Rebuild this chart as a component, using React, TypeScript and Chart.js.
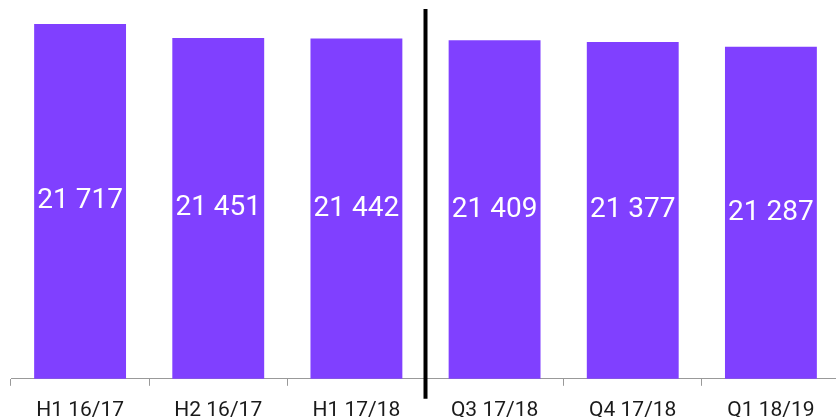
import React, { useEffect, useRef } from "react";
import { Chart, registerables } from "chart.js";

Chart.register(...registerables);

const categories = ["H1 16/17", "H2 16/17", "H1 17/18", "Q3 17/18", "Q4 17/18", "Q1 18/19"];
const values = [21717, 21451, 21442, 21409, 21377, 21287];
const valueLabels = ["21 717", "21 451", "21 442", "21 409", "21 377", "21 287"];
const yMin = 15000;
const yMax = 22000;
const dividerAfterIndex = 2;

const barColor = "#8040FF";

const valueLabelPlugin = {
  id: "valueLabels",
  afterDatasetsDraw(chart: any) {
    const ctx = chart.ctx;
    const xs = chart.scales.x;
    const ys = chart.scales.y;
    ctx.save();
    ctx.fillStyle = "#ffffff";
    ctx.font = "28px Roboto";
    ctx.textAlign = "center";
    ctx.textBaseline = "middle";
    values.forEach((v, i) => {
      const x = xs.getPixelForValue(i);
      const top = ys.getPixelForValue(v);
      const base = ys.getPixelForValue(yMin);
      ctx.fillText(valueLabels[i], x, (top + base) / 2);
    });
    ctx.restore();
  },
};

const dividerPlugin = {
  id: "divider",
  afterDraw(chart: any) {
    const xs = chart.scales.x;
    const x = (xs.getPixelForValue(dividerAfterIndex) + xs.getPixelForValue(dividerAfterIndex + 1)) / 2;
    const ctx = chart.ctx;
    const area = chart.chartArea;
    ctx.save();
    ctx.strokeStyle = "#000000";
    ctx.lineWidth = 4;
    ctx.beginPath();
    ctx.moveTo(x, area.top);
    ctx.lineTo(x, area.bottom + 20);
    ctx.stroke();
    ctx.restore();
  },
};

export default function App() {
  const ref = useRef<HTMLCanvasElement | null>(null);
  useEffect(() => {
    if (!ref.current) return;
    const chart = new Chart(ref.current, {
      type: "bar",
      data: {
        labels: categories,
        datasets: [
          {
            data: values,
            backgroundColor: barColor,
            borderWidth: 0,
            barPercentage: 0.665,
            categoryPercentage: 1,
          },
        ],
      },
      options: {
        responsive: false,
        animation: false,
        layout: { padding: { left: 11, top: 9, right: 0, bottom: 0 } },
        plugins: { legend: { display: false }, tooltip: { enabled: false } },
        scales: {
          x: {
            grid: {
              offset: true,
              drawOnChartArea: false,
              drawTicks: true,
              tickLength: 7,
              color: "#999999",
            },
            border: { display: true, color: "#999999", width: 1 },
            ticks: {
              color: "#1a1a1a",
              font: { family: "Roboto", size: 21 },
              padding: 12,
              maxRotation: 0,
            },
          },
          y: {
            display: false,
            min: yMin,
            max: yMax,
          },
        },
      },
      plugins: [valueLabelPlugin, dividerPlugin],
    });
    return () => chart.destroy();
  }, []);
  return (
    <div style={{ position: "fixed", left: 0, top: 0, width: 836, height: 417, overflow: "hidden", background: "#fff" }}>
      <canvas ref={ref} width={840} height={435} style={{ display: "block", width: 840, height: 435 }} />
    </div>
  );
}
